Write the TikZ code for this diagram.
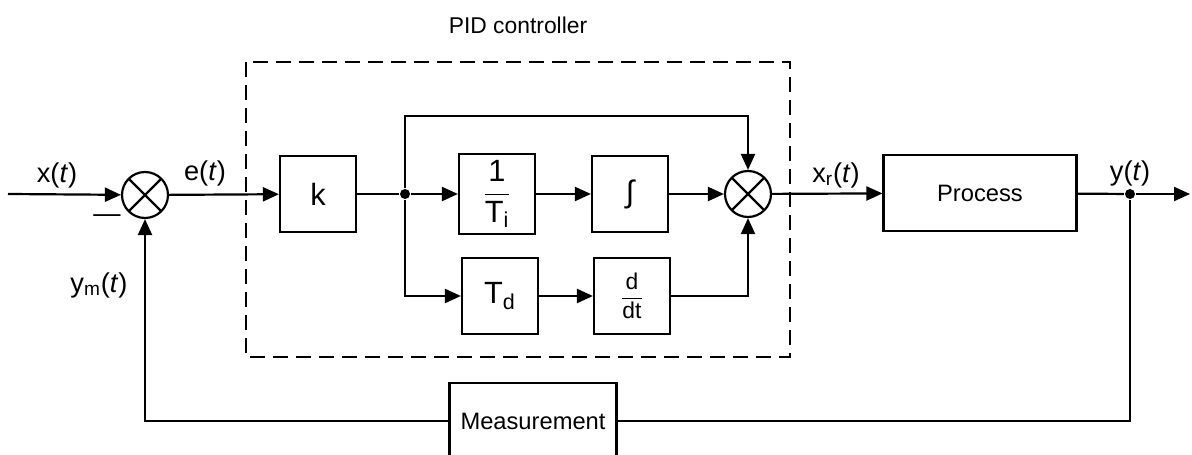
\documentclass[tikz,border=0pt]{standalone}
\usepackage{amsmath}
\usepackage{fontspec}
\setmainfont{Liberation Sans}
\usetikzlibrary{arrows.meta}

\begin{document}
\begin{tikzpicture}[x=0.02cm, y=-0.02cm, line width=1.25pt,
    >={Triangle[length=0.32cm, width=0.28cm]},
    block/.style={draw, minimum width=1.52cm, minimum height=1.52cm, font=\fontsize{17.5}{20}\selectfont},
    box/.style={draw, minimum height=1.52cm, font=\fontsize{13.5}{16}\selectfont},
    sum/.style={draw, circle, minimum size=0.92cm, inner sep=0pt,
      path picture={\draw (path picture bounding box.north west) -- (path picture bounding box.south east)
        (path picture bounding box.north east) -- (path picture bounding box.south west);}},
    signal/.style={font=\fontsize{15.5}{18}\selectfont},
    dot/.style={circle, fill, inner sep=0pt, minimum size=0.2cm}]
  \useasboundingbox (0,0) rectangle (1192,455);

  \node[sum] (S1) at (145,195) {};
  \node[block] (K) at (318,194) {k};
  \node[dot] (J) at (405,194) {};
  \node[block] (Ti) at (497,194) {$\dfrac{\text{1}}{\text{T}_{\text{i}}}$};
  \node[block] (Int) at (630,194) {∫};
  \node[sum] (S2) at (748,194) {};
  \node[block] (Td) at (500,296) {T\textsubscript{d}};
  \node[block, font=\fontsize{13}{15}\selectfont] (D) at (632,296) {$\dfrac{\text{d}}{\text{dt}}$};
  \node[box, minimum width=3.86cm] (P) at (980,193) {Process};
  \node[dot] (Y) at (1130,194) {};
  \node[box, minimum width=3.34cm] (M) at (533,421) {Measurement};
  \coordinate (In) at (8,194);
  \coordinate (Out) at (1190,194);
  \coordinate (T) at (748,116);

  % PID frame
  \draw[dashed, dash pattern=on 0.3cm off 0.16cm] (246,62) rectangle (790,357);
  \node[font=\fontsize{13}{15}\selectfont] (PID) at (518,25) {PID controller};

  \draw[->] (In) -- (S1);
  \draw[->] (S1) -- (K);
  \draw (K) -- (J);
  \draw[->] (J) -- (Ti);
  \draw[->] (Ti) -- (Int);
  \draw[->] (Int) -- (S2);
  \draw[->] (J) |- (T) -- (S2);
  \draw[->] (J) |- (Td);
  \draw[->] (Td) -- (D);
  \draw[->] (D) -| (S2);
  \draw[->] (S2) -- (P);
  \draw (P) -- (Y);
  \draw[->] (Y) -- (Out);
  \draw (Y) |- (M);
  \draw[->] (M) -| (S1);

  % signals
  \node[signal] (x) at (57,175) {x(\textit{t})};
  \node[signal] (e) at (205,173) {e(\textit{t})};
  \node[signal] (xr) at (836,175) {x\textsubscript{r}(\textit{t})};
  \node[signal] (y) at (1130,173) {y(\textit{t})};
  \node[signal] (ym) at (99,285) {y\textsubscript{m}(\textit{t})};
  \node[signal] (minus) at (107,219) {\textemdash};
\end{tikzpicture}
\end{document}
